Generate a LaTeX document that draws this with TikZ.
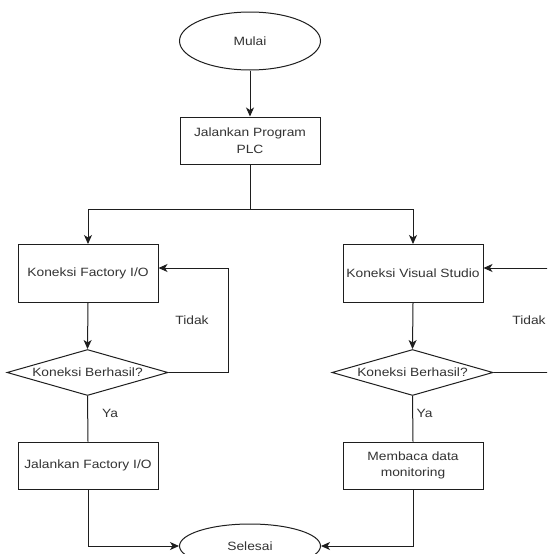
\documentclass[tikz,border=0pt]{standalone}
\usepackage{fontspec}
\setmainfont{Liberation Sans}[FakeStretch=1.15]
\usetikzlibrary{shapes.geometric,arrows.meta}
\definecolor{txt}{RGB}{51,51,51}
\definecolor{ln}{RGB}{30,30,30}
\tikzset{
  base/.style={draw=ln, line width=1pt, fill=white, text=txt, font=\fontsize{12}{16.5}\selectfont, align=center, inner sep=0pt},
  term/.style={base, ellipse, minimum width=141pt, minimum height=58pt},
  proc/.style={base, rectangle, minimum width=140pt, minimum height=47pt},
  procT/.style={base, rectangle, minimum width=140pt, minimum height=58pt},
  dec/.style={base, diamond, aspect=3.5, minimum width=161pt, minimum height=46pt},
  conn/.style={draw=ln, line width=1pt},
  arr/.style={conn, -{Stealth[length=9pt,width=8pt,inset=2.5pt]}},
  lbl/.style={text=txt, font=\fontsize{12}{14}\selectfont, inner sep=0pt}
}
\begin{document}
\begin{tikzpicture}[x=1pt,y=-1pt]
\useasboundingbox (0,0) rectangle (547,554);
\clip (0,0) rectangle (547,554);
\fill[white] (0,0) rectangle (547,554);

\node[term] (mulai) at (250,41) {Mulai};
\node[proc] (plc) at (250,140.5) {Jalankan Program\\PLC};
\node[procT] (fio) at (88,273.5) {Koneksi Factory I/O};
\node[procT] (vs) at (413,273.5) {Koneksi Visual Studio};
\node[dec] (d1) at (87.5,372.5) {Koneksi Berhasil?};
\node[dec] (d2) at (412.5,372.5) {Koneksi Berhasil?};
\node[proc] (fr) at (88,465.5) {Jalankan Factory I/O};
\node[proc] (mb) at (413,465.5) {Membaca data\\monitoring};
\node[base, ellipse, minimum width=141pt, minimum height=44pt] (sel) at (250,546) {Selesai};

\coordinate (split) at (250,209);
\coordinate (loopL) at (228,372.5);
\coordinate (loopR) at (565,372.5);

\draw[arr] (mulai.south) -- (plc.north);
\draw[conn] (plc.south) -- (split);
\draw[arr] (split) -| (fio.north);
\draw[arr] (split) -| (vs.north);
\draw[arr] (fio.south) -- (d1.north);
\draw[arr] (vs.south) -- (d2.north);
\draw[arr] (d1.east) -- (loopL) |- ([yshift=5.5pt]fio.east);
\draw[arr] (d2.east) -- (loopR) |- ([yshift=5.5pt]vs.east);
\draw[conn] (d1.south) -- (fr.north);
\draw[conn] (d2.south) -- (mb.north);
\draw[arr] (fr.south) |- (sel.west);
\draw[arr] (mb.south) |- (sel.east);

\node[lbl] (t1) at (192,320) {Tidak};
\node[lbl] (t2) at (529,320) {Tidak};
\node[lbl] (y1) at (110,413) {Ya};
\node[lbl] (y2) at (424.5,413) {Ya};
\end{tikzpicture}
\end{document}
